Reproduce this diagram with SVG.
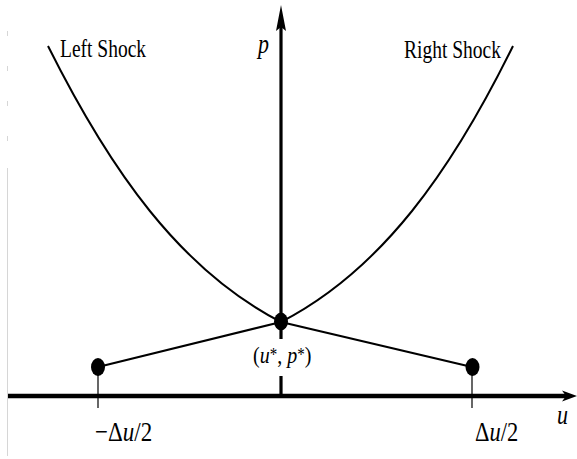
<svg xmlns="http://www.w3.org/2000/svg" width="577" height="459" viewBox="0 0 577 459">
<style>
text{font-family:'Liberation Serif','Times New Roman',Times,serif;fill:#000}
.it{font-style:italic}
.ax{stroke:#000;fill:none}
.curve{stroke:#000;stroke-width:2;fill:none}
.seg{stroke:#000;stroke-width:2.2;fill:none}
.tick{stroke:#000;stroke-width:1.2;fill:none}
.dot{fill:#000}
</style>
<rect width="577" height="459" fill="#fff"/>
<g id="scan-edge" stroke="#d6d6d6" stroke-width="1">
<line x1="7.5" y1="31" x2="7.5" y2="36"/>
<line x1="7.5" y1="66" x2="7.5" y2="71"/>
<line x1="7.5" y1="101" x2="7.5" y2="106"/>
<line x1="7.5" y1="136" x2="7.5" y2="141"/>
<line x1="7.5" y1="168" x2="7.5" y2="456"/>
</g>
<g id="axes">
<line class="ax" x1="8" y1="396" x2="566" y2="396" stroke-width="4.5"/>
<polygon points="577,396 562,390.5 566,396 562,401.5" fill="#000"/>
<line class="ax" x1="281" y1="26" x2="281" y2="339" stroke-width="3.2"/>
<line class="ax" x1="281" y1="376" x2="281" y2="396" stroke-width="3.2"/>
<polygon points="281,5 286,31 281,27 276,31" fill="#000"/>
</g>
<g id="connectors">
<path class="curve" d="M48,46 C110,170 180,270 281,322"/>
<path class="curve" d="M513,46 C452,170 382,270 281,322"/>
<line class="seg" x1="98" y1="367" x2="281" y2="322"/>
<line class="seg" x1="472" y1="367" x2="281" y2="322"/>
<line class="tick" x1="98" y1="367" x2="98" y2="408"/>
<line class="tick" x1="472" y1="367" x2="472" y2="408"/>
</g>
<g id="star-point">
<ellipse class="dot" cx="281" cy="321.5" rx="7" ry="9"/>
<text font-size="20" transform="translate(253,363) scale(1,1.2)">(<tspan class="it">u</tspan><tspan font-size="15" dy="-2">*</tspan><tspan dy="2">, </tspan><tspan class="it">p</tspan><tspan font-size="15" dy="-2">*</tspan><tspan dy="2">)</tspan></text>
</g>
<g id="left-point">
<ellipse class="dot" cx="98" cy="367" rx="7" ry="9"/>
<text font-size="23" transform="translate(95,441) scale(1,1.2)">−Δ<tspan class="it">u</tspan>/2</text>
</g>
<g id="right-point">
<ellipse class="dot" cx="472.5" cy="367" rx="7" ry="9"/>
<text font-size="22.5" transform="translate(475,441) scale(1,1.2)">Δ<tspan class="it">u</tspan>/2</text>
</g>
<g id="left-shock-label">
<text font-size="19.5" transform="translate(60,57) scale(1,1.25)">Left Shock</text>
</g>
<g id="right-shock-label">
<text font-size="19.5" transform="translate(404,58) scale(1,1.25)">Right Shock</text>
</g>
<g id="p-label">
<text class="it" font-size="22" transform="translate(258,53) scale(1,1.2)">p</text>
</g>
<g id="u-label">
<text class="it" font-size="22" transform="translate(557,424) scale(1,1.2)">u</text>
</g>
</svg>
